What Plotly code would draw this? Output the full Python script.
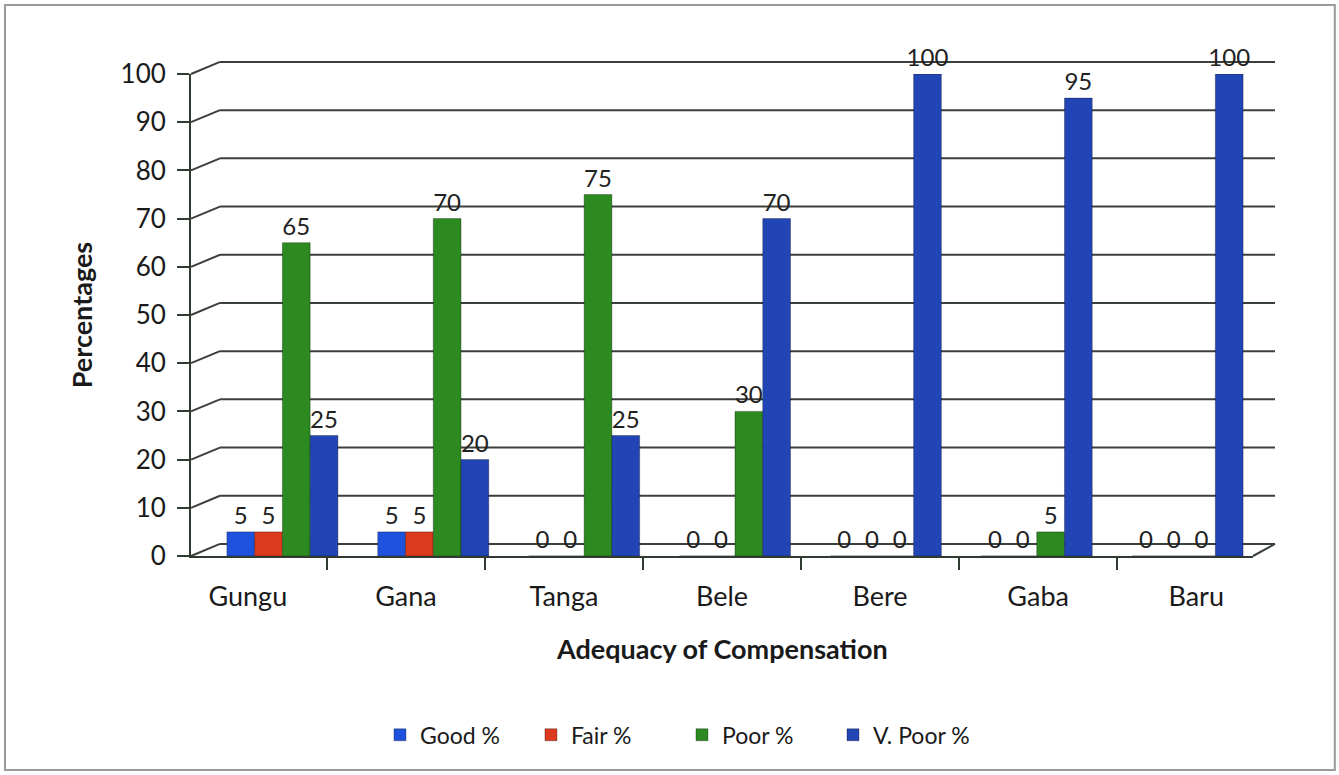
import plotly.graph_objects as go

# villages along the x axis
villages = ["Gungu", "Gana", "Tanga", "Bele", "Bere", "Gaba", "Baru"]

# percentage of respondents per rating
good = [5, 5, 0, 0, 0, 0, 0]
fair = [5, 5, 0, 0, 0, 0, 0]
poor = [65, 70, 75, 30, 0, 5, 0]
v_poor = [25, 20, 25, 70, 100, 95, 100]

y_ticks = [0, 10, 20, 30, 40, 50, 60, 70, 80, 90, 100]

series = [
    ("Good %", good, "#1f52dc"),
    ("Fair %", fair, "#dc3a1c"),
    ("Poor %", poor, "#2c8a20"),
    ("V. Poor %", v_poor, "#2245b6"),
]

fig = go.Figure()
# invisible trace so the front (label) axis knows its categories
fig.add_trace(go.Scatter(x=villages, y=v_poor, mode="markers", xaxis="x", yaxis="y",
                         marker=dict(opacity=0), showlegend=False, hoverinfo="skip"))
for name, vals, color in series:
    fig.add_trace(go.Bar(
        x=villages, y=vals, name=name, xaxis="x2", yaxis="y",
        marker=dict(color=color, line=dict(color="rgba(0,0,0,0.3)", width=1)),
        text=[str(v) for v in vals], textposition="outside", constraintext="none",
        textfont=dict(size=24, color="#222"),
        cliponaxis=False,
    ))

# pseudo-3D back wall: diagonal stub from the front axis, then flat gridline
front_r = 0.9907   # right end of the front (label) axis
back_l, back_r = 0.027, 1.0112
lift = 2.5
grid = dict(color="#3a403a", width=2)
shapes = []
for v in y_ticks:
    shapes.append(dict(type="line", xref="paper", yref="paper",
                       x0=0, y0=v / 100, x1=back_l, y1=(v + lift) / 100,
                       line=grid, layer="below"))
    shapes.append(dict(type="line", xref="paper", yref="paper",
                       x0=back_l, y0=(v + lift) / 100, x1=back_r, y1=(v + lift) / 100,
                       line=grid, layer="below"))
shapes.append(dict(type="line", xref="paper", yref="paper",
                   x0=front_r, y0=0, x1=back_r, y1=lift / 100,
                   line=grid, layer="below"))
# outer chart frame
shapes.append(dict(type="rect", xref="paper", yref="paper",
                   x0=-0.1735, y0=-0.444, x1=1.067, y1=1.143,
                   line=dict(color="#9a9a9a", width=2), layer="below"))

fig.update_layout(
    width=1339, height=775,
    margin=dict(l=191, r=76, t=74, b=219),
    paper_bgcolor="white", plot_bgcolor="rgba(0,0,0,0)",
    font=dict(family="Lato, Open Sans, sans-serif", color="#1a1a1a"),
    barmode="group", bargap=0.264, bargroupgap=0.0,
    showlegend=True,
    legend=dict(orientation="h", x=0.458, y=-0.371, xanchor="center", yanchor="middle",
                font=dict(size=23), traceorder="normal",
                entrywidth=106, entrywidthmode="pixels"),
    shapes=shapes,
    annotations=[dict(text="<b>Adequacy of Compensation</b>", xref="paper", yref="paper",
                      x=0.495, y=-0.191, yanchor="middle", showarrow=False,
                      font=dict(size=27))],
    xaxis=dict(
        domain=[0, front_r], anchor="y", automargin=False,
        categoryorder="array", categoryarray=villages,
        showline=True, linecolor="#2f3b30", linewidth=2,
        ticks="outside", tickson="boundaries", ticklen=12, tickwidth=2, tickcolor="#2f3b30",
        ticklabelstandoff=16, tickfont=dict(size=27), showgrid=False, zeroline=False,
    ),
    xaxis2=dict(domain=[0.0149, 1], anchor="y", visible=False,
                categoryorder="array", categoryarray=villages),
    yaxis=dict(
        range=[0, 100], tickvals=y_ticks, anchor="x", automargin=False,
        showline=True, linecolor="#2f3b30", linewidth=2,
        ticks="outside", ticklen=12, tickwidth=2, tickcolor="#2f3b30",
        ticklabelstandoff=6, tickfont=dict(size=26), showgrid=False, zeroline=False,
        title=dict(text="<b>Percentages</b>", font=dict(size=27), standoff=20),
    ),
)

# drop the browser's default body margin so the figure fills the window
fig.write_html("out.html", config={"displayModeBar": False},
               post_script="document.body.style.margin='0px';")
